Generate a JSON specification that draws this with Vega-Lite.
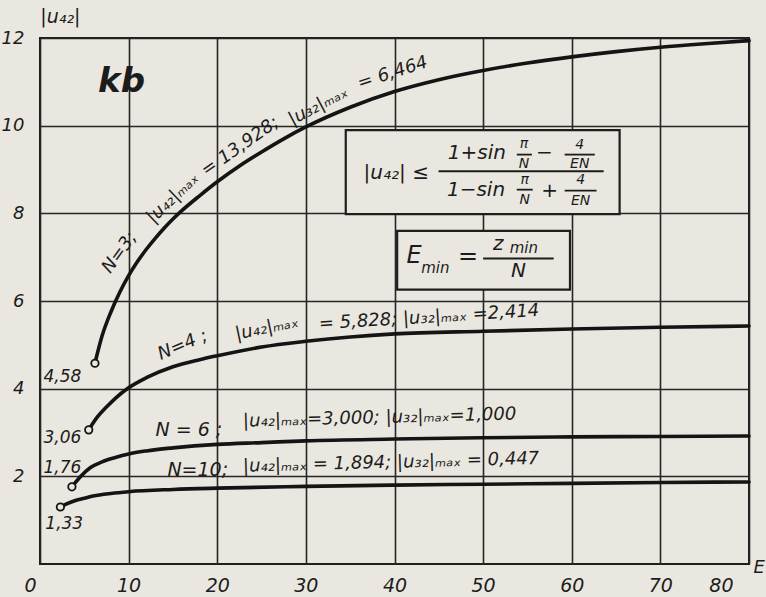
{
  "$schema": "https://vega.github.io/schema/vega-lite/v6.json",
  "width": 709,
  "height": 526,
  "autosize": {"type": "none"},
  "padding": {"left": 40, "top": 38, "right": 17, "bottom": 33},
  "background": "#e9e7df",
  "config": {
    "view": {"stroke": "#1e1e1e", "strokeWidth": 2},
    "font": "DejaVu Sans",
    "text": {"font": "DejaVu Sans", "fontStyle": "italic", "color": "#1c1c1c"}
  },
  "datasets": {
    "curves": [
      {"N": "3", "E": 6.2, "v": 4.58}, {"N": "3", "E": 7, "v": 5.2}, {"N": "3", "E": 8, "v": 5.75}, {"N": "3", "E": 9, "v": 6.2}, {"N": "3", "E": 10, "v": 6.58}, {"N": "3", "E": 11, "v": 6.9}, {"N": "3", "E": 12, "v": 7.18}, {"N": "3", "E": 13, "v": 7.43}, {"N": "3", "E": 14, "v": 7.66}, {"N": "3", "E": 15, "v": 7.87}, {"N": "3", "E": 16, "v": 8.06}, {"N": "3", "E": 18, "v": 8.4}, {"N": "3", "E": 20, "v": 8.72}, {"N": "3", "E": 22.5, "v": 9.08}, {"N": "3", "E": 25, "v": 9.4}, {"N": "3", "E": 27.5, "v": 9.7}, {"N": "3", "E": 30, "v": 9.97}, {"N": "3", "E": 35, "v": 10.42}, {"N": "3", "E": 40, "v": 10.78}, {"N": "3", "E": 45, "v": 11.05}, {"N": "3", "E": 50, "v": 11.26}, {"N": "3", "E": 55, "v": 11.43}, {"N": "3", "E": 60, "v": 11.57}, {"N": "3", "E": 65, "v": 11.69}, {"N": "3", "E": 70, "v": 11.79}, {"N": "3", "E": 75, "v": 11.87}, {"N": "3", "E": 80, "v": 11.94},
      {"N": "4", "E": 5.5, "v": 3.06}, {"N": "4", "E": 6.5, "v": 3.36}, {"N": "4", "E": 7.5, "v": 3.58}, {"N": "4", "E": 8.5, "v": 3.78}, {"N": "4", "E": 10, "v": 4.02}, {"N": "4", "E": 12, "v": 4.25}, {"N": "4", "E": 15, "v": 4.5}, {"N": "4", "E": 18, "v": 4.66}, {"N": "4", "E": 20, "v": 4.75}, {"N": "4", "E": 25, "v": 4.95}, {"N": "4", "E": 30, "v": 5.08}, {"N": "4", "E": 35, "v": 5.18}, {"N": "4", "E": 40, "v": 5.25}, {"N": "4", "E": 50, "v": 5.31}, {"N": "4", "E": 60, "v": 5.36}, {"N": "4", "E": 70, "v": 5.4}, {"N": "4", "E": 80, "v": 5.43},
      {"N": "6", "E": 3.6, "v": 1.76}, {"N": "6", "E": 4.5, "v": 1.98}, {"N": "6", "E": 5.7, "v": 2.2}, {"N": "6", "E": 7, "v": 2.33}, {"N": "6", "E": 8.5, "v": 2.43}, {"N": "6", "E": 10, "v": 2.51}, {"N": "6", "E": 12, "v": 2.58}, {"N": "6", "E": 15, "v": 2.65}, {"N": "6", "E": 20, "v": 2.73}, {"N": "6", "E": 25, "v": 2.77}, {"N": "6", "E": 30, "v": 2.81}, {"N": "6", "E": 40, "v": 2.85}, {"N": "6", "E": 50, "v": 2.88}, {"N": "6", "E": 60, "v": 2.9}, {"N": "6", "E": 70, "v": 2.91}, {"N": "6", "E": 80, "v": 2.92},
      {"N": "10", "E": 2.3, "v": 1.3}, {"N": "10", "E": 3, "v": 1.37}, {"N": "10", "E": 4, "v": 1.45}, {"N": "10", "E": 5, "v": 1.5}, {"N": "10", "E": 6, "v": 1.55}, {"N": "10", "E": 8, "v": 1.61}, {"N": "10", "E": 10, "v": 1.65}, {"N": "10", "E": 15, "v": 1.7}, {"N": "10", "E": 20, "v": 1.73}, {"N": "10", "E": 30, "v": 1.77}, {"N": "10", "E": 40, "v": 1.8}, {"N": "10", "E": 50, "v": 1.82}, {"N": "10", "E": 60, "v": 1.84}, {"N": "10", "E": 70, "v": 1.86}, {"N": "10", "E": 80, "v": 1.87}
    ],
    "starts": [
      {"N": "3", "E": 6.2, "v": 4.58}, {"N": "4", "E": 5.5, "v": 3.06}, {"N": "6", "E": 3.6, "v": 1.76}, {"N": "10", "E": 2.3, "v": 1.3}
    ],
    "boxes": [
      {"box": "formula", "E0": 34.5, "E1": 65.4, "v0": 7.98, "v1": 9.9},
      {"box": "Emin", "E0": 40.3, "E1": 59.8, "v0": 6.26, "v1": 7.6}
    ],
    "bars": [
      {"E0": 44.97, "E1": 63.6, "v": 8.96},
      {"E0": 53.8, "E1": 55.5, "v": 9.34},
      {"E0": 59.2, "E1": 62.6, "v": 9.34},
      {"E0": 53.8, "E1": 55.6, "v": 8.54},
      {"E0": 59.2, "E1": 62.8, "v": 8.52},
      {"E0": 50.0, "E1": 57.96, "v": 6.97}
    ]
  },
  "encoding": {
    "x": {"type": "quantitative", "scale": {"domain": [0, 80], "nice": false, "zero": false}},
    "y": {"type": "quantitative", "scale": {"domain": [0, 12], "nice": false, "zero": false}}
  },
  "layer": [
    {
      "data": {"name": "boxes"},
      "mark": {"type": "rect", "fill": "#e9e7df", "stroke": "#1e1e1e", "strokeWidth": 2.2},
      "encoding": {
        "x": {"field": "E0", "type": "quantitative", "axis": {"values": [0, 10, 20, 30, 40, 50, 60, 70, 80], "grid": true, "gridColor": "#262626", "gridWidth": 1.6, "gridOpacity": 1, "domain": false, "ticks": false, "title": null, "labelFont": "DejaVu Sans", "labelFontStyle": "italic", "labelFontSize": 19, "labelColor": "#1c1c1c", "labelPadding": 12, "labelOffset": {"condition": {"test": "datum.value === 0 || datum.value === 80", "value": -16}, "value": 0}}},
        "x2": {"field": "E1"},
        "y": {"field": "v0", "type": "quantitative", "axis": {"values": [2, 4, 6, 8, 10, 12], "grid": true, "gridColor": "#262626", "gridWidth": 1.6, "gridOpacity": 1, "domain": false, "ticks": false, "title": null, "labelFont": "DejaVu Sans", "labelFontStyle": "italic", "labelFontSize": 18, "labelColor": "#1c1c1c", "labelPadding": 16}},
        "y2": {"field": "v1"}
      }
    },
    {
      "data": {"name": "bars"},
      "mark": {"type": "rule", "stroke": "#1c1c1c", "strokeWidth": 1.8},
      "encoding": {
        "x": {"field": "E0", "type": "quantitative"},
        "x2": {"field": "E1"},
        "y": {"field": "v", "type": "quantitative"}
      }
    },
    {
      "data": {"name": "curves"},
      "mark": {"type": "line", "stroke": "#141414", "strokeWidth": 3.6, "interpolate": "monotone", "strokeCap": "round"},
      "encoding": {
        "x": {"field": "E", "type": "quantitative"},
        "y": {"field": "v", "type": "quantitative"},
        "detail": {"field": "N"}
      }
    },
    {
      "data": {"name": "starts"},
      "mark": {"type": "point", "shape": "circle", "filled": false, "fill": "#e9e7df", "fillOpacity": 1, "stroke": "#141414", "strokeWidth": 1.8, "size": 55, "opacity": 1},
      "encoding": {
        "x": {"field": "E", "type": "quantitative"},
        "y": {"field": "v", "type": "quantitative"}
      }
    },
    {
      "data": {"values": [
        {"t": "4,58", "E": 0.4, "v": 4.27},
        {"t": "3,06", "E": 0.4, "v": 2.88},
        {"t": "1,76", "E": 0.4, "v": 2.19},
        {"t": "1,33", "E": 0.6, "v": 0.91}
      ]},
      "mark": {"type": "text", "align": "left", "baseline": "middle", "fontSize": 17},
      "encoding": {"x": {"field": "E", "type": "quantitative"}, "y": {"field": "v", "type": "quantitative"}, "text": {"field": "t"}}
    },
    {
      "data": {"values": [
        {"t": "kb", "E": 9.2, "v": 11.0}
      ]},
      "mark": {"type": "text", "align": "center", "baseline": "middle", "fontSize": 34, "fontWeight": "bold"},
      "encoding": {"x": {"field": "E", "type": "quantitative"}, "y": {"field": "v", "type": "quantitative"}, "text": {"field": "t"}}
    },
    {
      "data": {"values": [
        {"t": "|u₄₂|", "E": 2.3, "v": 12.48},
        {"t": "N = 6 ;", "E": 16.8, "v": 3.05},
        {"t": "N=10;", "E": 17.8, "v": 2.15}
      ]},
      "mark": {"type": "text", "align": "center", "baseline": "middle", "fontSize": 19},
      "encoding": {"x": {"field": "E", "type": "quantitative"}, "y": {"field": "v", "type": "quantitative"}, "text": {"field": "t"}}
    },
    {
      "data": {"values": [
        {"t": "E", "E": 80.5, "v": -0.08}
      ]},
      "mark": {"type": "text", "align": "left", "baseline": "middle", "fontSize": 18},
      "encoding": {"x": {"field": "E", "type": "quantitative"}, "y": {"field": "v", "type": "quantitative"}, "text": {"field": "t"}}
    },
    {
      "data": {"values": [
        {"t": "|u₄₂|ₘₐₓ=3,000; |u₃₂|ₘₐₓ=1,000", "E": 22.9, "v": 3.25},
        {"t": "|u₄₂|ₘₐₓ = 1,894;  |u₃₂|ₘₐₓ = 0,447", "E": 22.9, "v": 2.22}
      ]},
      "mark": {"type": "text", "align": "left", "baseline": "middle", "fontSize": 18, "angle": -1.5},
      "encoding": {"x": {"field": "E", "type": "quantitative"}, "y": {"field": "v", "type": "quantitative"}, "text": {"field": "t"}}
    },
    {
      "data": {"values": [{"t": "N=4 ;", "E": 16.1, "v": 4.99}]},
      "mark": {"type": "text", "align": "center", "baseline": "middle", "fontSize": 18, "angle": -23},
      "encoding": {"x": {"field": "E", "type": "quantitative"}, "y": {"field": "v", "type": "quantitative"}, "text": {"field": "t"}}
    },
    {
      "data": {"values": [{"t": "|u₄₂|ₘₐₓ", "E": 25.6, "v": 5.38}]},
      "mark": {"type": "text", "align": "center", "baseline": "middle", "fontSize": 18, "angle": -12},
      "encoding": {"x": {"field": "E", "type": "quantitative"}, "y": {"field": "v", "type": "quantitative"}, "text": {"field": "t"}}
    },
    {
      "data": {"values": [{"t": "= 5,828; |u₃₂|ₘₐₓ =2,414", "E": 43.9, "v": 5.62}]},
      "mark": {"type": "text", "align": "center", "baseline": "middle", "fontSize": 18, "angle": -3.5},
      "encoding": {"x": {"field": "E", "type": "quantitative"}, "y": {"field": "v", "type": "quantitative"}, "text": {"field": "t"}}
    },
    {
      "data": {"values": [{"t": "N=3;", "E": 9.0, "v": 7.1}]},
      "mark": {"type": "text", "align": "center", "baseline": "middle", "fontSize": 18, "angle": -54},
      "encoding": {"x": {"field": "E", "type": "quantitative"}, "y": {"field": "v", "type": "quantitative"}, "text": {"field": "t"}}
    },
    {
      "data": {"values": [{"t": "|u₄₂|ₘₐₓ", "E": 15.0, "v": 8.35}]},
      "mark": {"type": "text", "align": "center", "baseline": "middle", "fontSize": 18, "angle": -44},
      "encoding": {"x": {"field": "E", "type": "quantitative"}, "y": {"field": "v", "type": "quantitative"}, "text": {"field": "t"}}
    },
    {
      "data": {"values": [{"t": "= 13,928;", "E": 22.6, "v": 9.52}]},
      "mark": {"type": "text", "align": "center", "baseline": "middle", "fontSize": 18, "angle": -35},
      "encoding": {"x": {"field": "E", "type": "quantitative"}, "y": {"field": "v", "type": "quantitative"}, "text": {"field": "t"}}
    },
    {
      "data": {"values": [{"t": "|u₃₂|ₘₐₓ", "E": 31.4, "v": 10.45}]},
      "mark": {"type": "text", "align": "center", "baseline": "middle", "fontSize": 18, "angle": -28},
      "encoding": {"x": {"field": "E", "type": "quantitative"}, "y": {"field": "v", "type": "quantitative"}, "text": {"field": "t"}}
    },
    {
      "data": {"values": [{"t": "= 6,464", "E": 39.8, "v": 11.2}]},
      "mark": {"type": "text", "align": "center", "baseline": "middle", "fontSize": 18, "angle": -18},
      "encoding": {"x": {"field": "E", "type": "quantitative"}, "y": {"field": "v", "type": "quantitative"}, "text": {"field": "t"}}
    },
    {
      "data": {"values": [
        {"t": "|u₄₂| ≤", "E": 40.2, "v": 8.92},
        {"t": "1+sin", "E": 49.3, "v": 9.37},
        {"t": "−", "E": 56.9, "v": 9.37},
        {"t": "1−sin", "E": 49.2, "v": 8.53},
        {"t": "+", "E": 57.5, "v": 8.5}
      ]},
      "mark": {"type": "text", "align": "center", "baseline": "middle", "fontSize": 20},
      "encoding": {"x": {"field": "E", "type": "quantitative"}, "y": {"field": "v", "type": "quantitative"}, "text": {"field": "t"}}
    },
    {
      "data": {"values": [
        {"t": "π", "E": 54.6, "v": 9.58},
        {"t": "N", "E": 54.6, "v": 9.13},
        {"t": "4", "E": 60.9, "v": 9.57},
        {"t": "EN", "E": 60.9, "v": 9.12},
        {"t": "π", "E": 54.7, "v": 8.77},
        {"t": "N", "E": 54.7, "v": 8.31},
        {"t": "4", "E": 61.0, "v": 8.75},
        {"t": "EN", "E": 61.0, "v": 8.29}
      ]},
      "mark": {"type": "text", "align": "center", "baseline": "middle", "fontSize": 14},
      "encoding": {"x": {"field": "E", "type": "quantitative"}, "y": {"field": "v", "type": "quantitative"}, "text": {"field": "t"}}
    },
    {
      "data": {"values": [
        {"t": "E", "E": 42.2, "v": 7.02},
        {"t": "=", "E": 48.3, "v": 7.0}
      ]},
      "mark": {"type": "text", "align": "center", "baseline": "middle", "fontSize": 24},
      "encoding": {"x": {"field": "E", "type": "quantitative"}, "y": {"field": "v", "type": "quantitative"}, "text": {"field": "t"}}
    },
    {
      "data": {"values": [
        {"t": "z", "E": 51.7, "v": 7.3},
        {"t": "N", "E": 54.0, "v": 6.68}
      ]},
      "mark": {"type": "text", "align": "center", "baseline": "middle", "fontSize": 20},
      "encoding": {"x": {"field": "E", "type": "quantitative"}, "y": {"field": "v", "type": "quantitative"}, "text": {"field": "t"}}
    },
    {
      "data": {"values": [
        {"t": "min", "E": 44.6, "v": 6.76},
        {"t": "min", "E": 54.6, "v": 7.2}
      ]},
      "mark": {"type": "text", "align": "center", "baseline": "middle", "fontSize": 15},
      "encoding": {"x": {"field": "E", "type": "quantitative"}, "y": {"field": "v", "type": "quantitative"}, "text": {"field": "t"}}
    }
  ]
}
